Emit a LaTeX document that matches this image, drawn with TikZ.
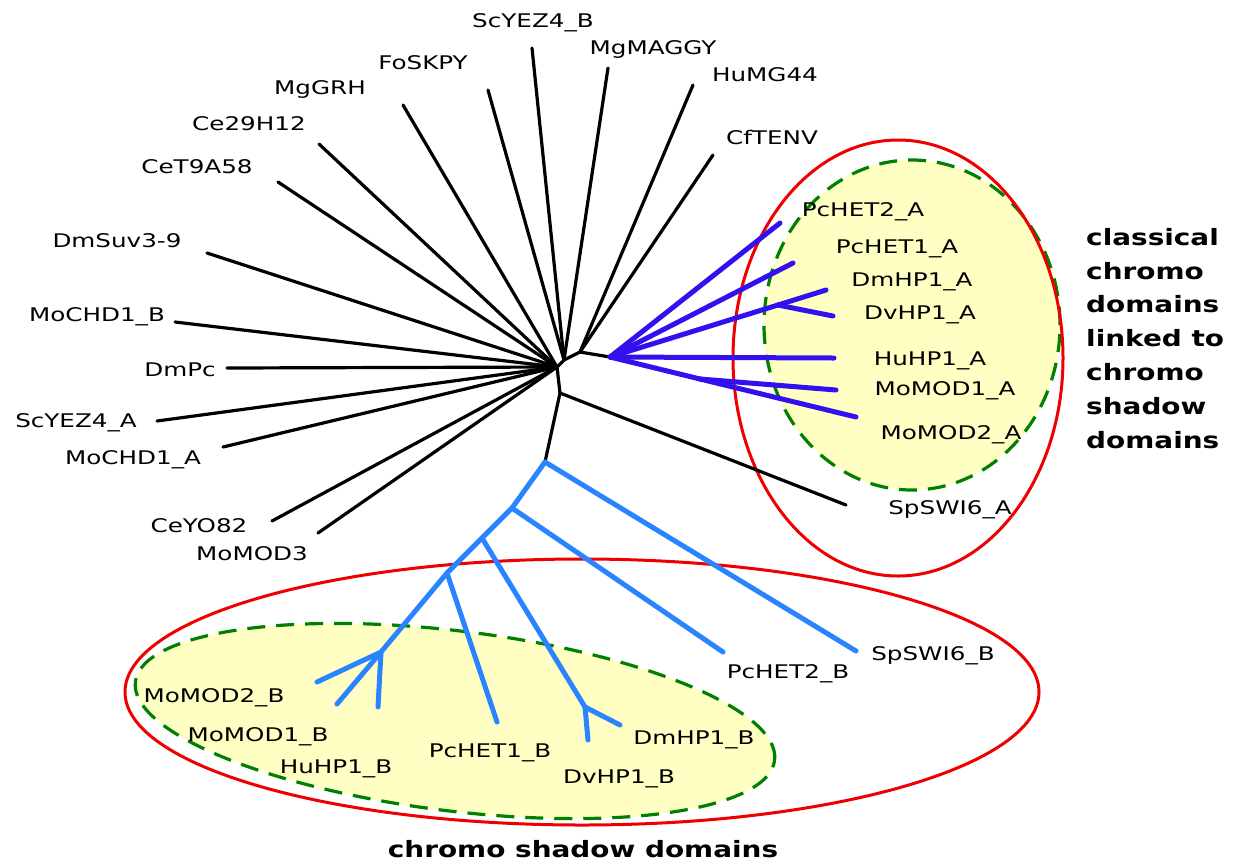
\documentclass[tikz,border=0pt]{standalone}
\usepackage{fontspec}
\newfontfamily\leaffont[FakeStretch=1.31]{DejaVu Sans}
\newfontfamily\notefont[FakeStretch=1.24]{DejaVu Sans}
\definecolor{hpblue}{RGB}{51,17,238}
\definecolor{csblue}{RGB}{43,132,255}
\definecolor{ringred}{RGB}{238,0,0}
\definecolor{ringgreen}{RGB}{0,128,0}
\definecolor{paleyellow}{RGB}{255,255,196}
\tikzset{
  leaf/.style={font=\leaffont\fontsize{18.8}{22}\selectfont, inner sep=0pt, anchor=base},
  note/.style={font=\notefont\bfseries\fontsize{22.5}{33.8}\selectfont, inner sep=0pt},
  stem/.style={draw=black, line width=3.2pt, line cap=round, line join=round},
  hpedge/.style={draw=hpblue, line width=5pt, line cap=round, line join=round},
  csedge/.style={draw=csblue, line width=5pt, line cap=round, line join=round},
  ring/.style={draw=ringred, line width=3pt},
  core/.style={draw=ringgreen, fill=paleyellow, line width=3.2pt, dash pattern=on 18pt off 11pt}
}
\begin{document}
\begin{tikzpicture}[x=1pt, y=-1pt]
\useasboundingbox (0,0) rectangle (1236,863);
\fill[white] (0,0) rectangle (1236,863);

% domain groupings
\draw[core] (912,325) ellipse [x radius=148pt, y radius=165pt];
\draw[core, rotate around={-7:(455,721)}] (455,721) ellipse [x radius=322pt, y radius=90pt];
\draw[ring] (898,358) ellipse [x radius=165pt, y radius=218pt];
\draw[ring] (582,692) ellipse [x radius=457pt, y radius=133pt];

% internal nodes of the tree
\coordinate (hub) at (557,367);
\coordinate (up) at (564,360);
\coordinate (tr) at (580,352);
\coordinate (dn) at (560,393);
\coordinate (ra) at (610,357);
\coordinate (a3) at (778,305);
\coordinate (a5) at (700,379);
\coordinate (rb) at (545,462);
\coordinate (n1) at (512,508);
\coordinate (n2) at (482,538);
\coordinate (n3) at (585,707);
\coordinate (n4) at (447,573);
\coordinate (n5) at (381,652);

% branch tips
\coordinate (tScYEZ4B) at (532,48);
\coordinate (tMgMAGGY) at (608,68);
\coordinate (tFoSKPY) at (488,90);
\coordinate (tHuMG44) at (693,85);
\coordinate (tCfTENV) at (713,155);
\coordinate (tMgGRH) at (403,105);
\coordinate (tCe29H12) at (319,144);
\coordinate (tCeT9A58) at (278,182);
\coordinate (tDmSuv) at (207,253);
\coordinate (tMoCHD1B) at (175,322);
\coordinate (tDmPc) at (227,368);
\coordinate (tScYEZ4A) at (157,421);
\coordinate (tMoCHD1A) at (223,447);
\coordinate (tCeYO82) at (272,521);
\coordinate (tMoMOD3) at (318,533);
\coordinate (tSpSWI6A) at (846,505);
\coordinate (tPcHET2A) at (780,223);
\coordinate (tPcHET1A) at (793,263);
\coordinate (tDmHP1A) at (826,290);
\coordinate (tDvHP1A) at (833,316);
\coordinate (tHuHP1A) at (834,358);
\coordinate (tMoMOD1A) at (836,390);
\coordinate (tMoMOD2A) at (856,417);
\coordinate (tSpSWI6B) at (856,651);
\coordinate (tPcHET2B) at (723,652);
\coordinate (tDmHP1B) at (620,725);
\coordinate (tDvHP1B) at (588,740);
\coordinate (tPcHET1B) at (497,722);
\coordinate (tMoMOD2B) at (317,682);
\coordinate (tMoMOD1B) at (337,704);
\coordinate (tHuHP1B) at (378,707);

% unrooted tree: black backbone
\draw[stem] (hub) -- (up);
\draw[stem] (up) -- (tr);
\draw[stem] (tr) -- (ra);
\draw[stem] (hub) -- (dn);
\draw[stem] (dn) -- (rb);
\draw[stem] (dn) -- (tSpSWI6A);
\draw[stem] (up) -- (tScYEZ4B);
\draw[stem] (up) -- (tMgMAGGY);
\draw[stem] (up) -- (tFoSKPY);
\draw[stem] (tr) -- (tHuMG44);
\draw[stem] (tr) -- (tCfTENV);
\draw[stem] (hub) -- (tMgGRH);
\draw[stem] (hub) -- (tCe29H12);
\draw[stem] (hub) -- (tCeT9A58);
\draw[stem] (hub) -- (tDmSuv);
\draw[stem] (hub) -- (tMoCHD1B);
\draw[stem] (hub) -- (tDmPc);
\draw[stem] (hub) -- (tScYEZ4A);
\draw[stem] (hub) -- (tMoCHD1A);
\draw[stem] (hub) -- (tCeYO82);
\draw[stem] (hub) -- (tMoMOD3);

% chromo domains (A)
\draw[hpedge] (ra) -- (tPcHET2A);
\draw[hpedge] (ra) -- (tPcHET1A);
\draw[hpedge] (ra) -- (a3);
\draw[hpedge] (a3) -- (tDmHP1A);
\draw[hpedge] (a3) -- (tDvHP1A);
\draw[hpedge] (ra) -- (tHuHP1A);
\draw[hpedge] (ra) -- (a5);
\draw[hpedge] (a5) -- (tMoMOD1A);
\draw[hpedge] (a5) -- (tMoMOD2A);

% chromo shadow domains (B)
\draw[csedge] (rb) -- (tSpSWI6B);
\draw[csedge] (rb) -- (n1);
\draw[csedge] (n1) -- (tPcHET2B);
\draw[csedge] (n1) -- (n2);
\draw[csedge] (n2) -- (n3);
\draw[csedge] (n3) -- (tDmHP1B);
\draw[csedge] (n3) -- (tDvHP1B);
\draw[csedge] (n2) -- (n4);
\draw[csedge] (n4) -- (tPcHET1B);
\draw[csedge] (n4) -- (n5);
\draw[csedge] (n5) -- (tMoMOD2B);
\draw[csedge] (n5) -- (tMoMOD1B);
\draw[csedge] (n5) -- (tHuHP1B);

% leaf labels
\node[leaf] (lScYEZ4B) at (533,27) {ScYEZ4\_B};
\node[leaf] (lMgMAGGY) at (653,54) {MgMAGGY};
\node[leaf] (lHuMG44) at (765,81) {HuMG44};
\node[leaf] (lCfTENV) at (772,144) {CfTENV};
\node[leaf] (lFoSKPY) at (423,69) {FoSKPY};
\node[leaf] (lMgGRH) at (320,94) {MgGRH};
\node[leaf] (lCe29H12) at (249,130) {Ce29H12};
\node[leaf] (lCeT9A58) at (197,173) {CeT9A58};
\node[leaf] (lDmSuv) at (117,247) {DmSuv3-9};
\node[leaf] (lMoCHD1B) at (97,321) {MoCHD1\_B};
\node[leaf] (lDmPc) at (180,376) {DmPc};
\node[leaf] (lScYEZ4A) at (76,427) {ScYEZ4\_A};
\node[leaf] (lMoCHD1A) at (133,464) {MoCHD1\_A};
\node[leaf] (lCeYO82) at (199,532) {CeYO82};
\node[leaf] (lMoMOD3) at (252,560) {MoMOD3};
\node[leaf] (lPcHET2A) at (863,216) {PcHET2\_A};
\node[leaf] (lPcHET1A) at (897,253) {PcHET1\_A};
\node[leaf] (lDmHP1A) at (912,286) {DmHP1\_A};
\node[leaf] (lDvHP1A) at (920,319) {DvHP1\_A};
\node[leaf] (lHuHP1A) at (930,365) {HuHP1\_A};
\node[leaf] (lMoMOD1A) at (945,395) {MoMOD1\_A};
\node[leaf] (lMoMOD2A) at (951,439) {MoMOD2\_A};
\node[leaf] (lSpSWI6A) at (950,514) {SpSWI6\_A};
\node[leaf] (lSpSWI6B) at (933,660) {SpSWI6\_B};
\node[leaf] (lPcHET2B) at (788,678) {PcHET2\_B};
\node[leaf] (lDmHP1B) at (694,744) {DmHP1\_B};
\node[leaf] (lDvHP1B) at (619,783) {DvHP1\_B};
\node[leaf] (lPcHET1B) at (490,757) {PcHET1\_B};
\node[leaf] (lHuHP1B) at (336,773) {HuHP1\_B};
\node[leaf] (lMoMOD1B) at (258,741) {MoMOD1\_B};
\node[leaf] (lMoMOD2B) at (214,702) {MoMOD2\_B};

% group captions
\node[note, anchor=north west, align=left] (capA) at (1086,228)
  {classical\\chromo\\domains\\linked to\\chromo\\shadow\\domains};
\node[note, anchor=base] (capB) at (583,857) {chromo shadow domains};
\end{tikzpicture}
\end{document}
